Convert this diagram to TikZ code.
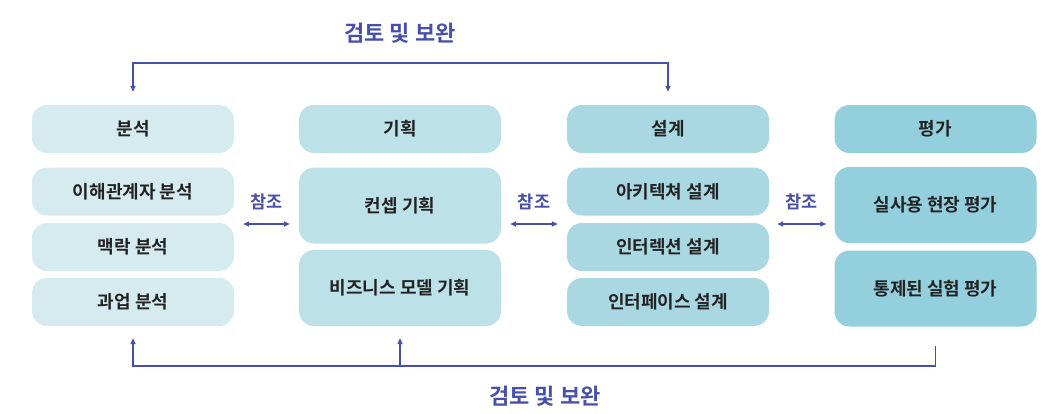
\documentclass[tikz,border=0pt]{standalone}
\usepackage{fontspec}
\setmainfont{Noto Sans CJK KR}[BoldFont={Noto Sans CJK KR Bold}]
\usetikzlibrary{arrows.meta,positioning,calc}
\definecolor{colA}{HTML}{D6EBF0}
\definecolor{colB}{HTML}{BDE1E8}
\definecolor{colC}{HTML}{A9D8E3}
\definecolor{colD}{HTML}{94CFDD}
\definecolor{revblue}{HTML}{4650A8}
\definecolor{inktext}{HTML}{222222}
\tikzset{
  stagebox/.style={rounded corners=15pt, minimum width=202pt, inner sep=0pt,
                   align=center, text=inktext, font=\fontsize{18}{20}\selectfont\bfseries},
  headbox/.style={stagebox, minimum height=48pt},
  smallbox/.style={stagebox, minimum height=48pt},
  tallbox/.style={stagebox, minimum height=76pt},
  barr/.style={-{Triangle[length=6pt,width=5pt]}, line width=1.4pt, color=revblue},
  darr/.style={{Triangle[length=6pt,width=5pt]}-{Triangle[length=6pt,width=5pt]},
               line width=1.4pt, color=revblue},
  revlabel/.style={text=revblue, font=\fontsize{22}{24}\selectfont\bfseries},
  reflabel/.style={text=revblue, font=\fontsize{17.5}{19}\selectfont\bfseries}}

\begin{document}
\begin{tikzpicture}[x=1pt,y=-1pt]
    \useasboundingbox (0,0) rectangle (1062,413);
    % headers
    \node[headbox, fill=colA] (ana) at (133,129) {분석};
    \node[headbox, fill=colB] (pla) at (400,129) {기획};
    \node[headbox, fill=colC] (des) at (668,129) {설계};
    \node[headbox, fill=colD] (eva) at (935.5,129) {평가};
    % analysis
    \node[smallbox, fill=colA] (stake) at (133,191.5) {이해관계자 분석};
    \node[smallbox, fill=colA] (ctx) at (133,247) {맥락 분석};
    \node[smallbox, fill=colA] (task) at (133,302) {과업 분석};
    % planning
    \node[tallbox, fill=colB] (concept) at (400,205.5) {컨셉 기획};
    \node[tallbox, fill=colB] (bizm) at (400,288) {비즈니스 모델 기획};
    % design
    \node[smallbox, fill=colC] (arch) at (668,191.5) {아키텍쳐 설계};
    \node[smallbox, fill=colC] (inter) at (668,247) {인터렉션 설계};
    \node[smallbox, fill=colC] (iface) at (668,302) {인터페이스 설계};
    % evaluation
    \node[tallbox, fill=colD] (field) at (935.5,205) {실사용 현장 평가};
    \node[tallbox, fill=colD] (ctrl) at (935.5,288.5) {통제된 실험 평가};
    % reference arrows
    \coordinate (refy) at (0,224);
    \draw[darr, shorten <=9pt, shorten >=9pt] (stake.east |- refy) -- (concept.west |- refy)
      node[midway, reflabel, above=10pt] (ref1) {참조};
    \draw[darr, shorten <=9pt, shorten >=9pt] (concept.east |- refy) -- (arch.west |- refy)
      node[midway, reflabel, above=10pt] (ref2) {참조};
    \draw[darr, shorten <=8pt, shorten >=8pt] (arch.east |- refy) -- (field.west |- refy)
      node[midway, reflabel, above=10pt] (ref3) {참조};
    % review loop, top
    \node[revlabel] (toprev) at (400,33) {검토 및 보완};
    \draw[darr, shorten <=13pt, shorten >=13pt] (ana.north) -- ++(0,-42) -| (des.north);
    % review loop, bottom
    \coordinate (boty) at (0,366);
    \node[revlabel] (botrev) at (545,396) {검토 및 보완};
    \draw[barr] ($(ctrl.south)+(0,19)$) |- (task.south |- boty) -- ([yshift=-12pt]task.south);
    \draw[barr] (bizm.south |- boty) -- ([yshift=-12pt]bizm.south);
  \end{tikzpicture}
\end{document}
